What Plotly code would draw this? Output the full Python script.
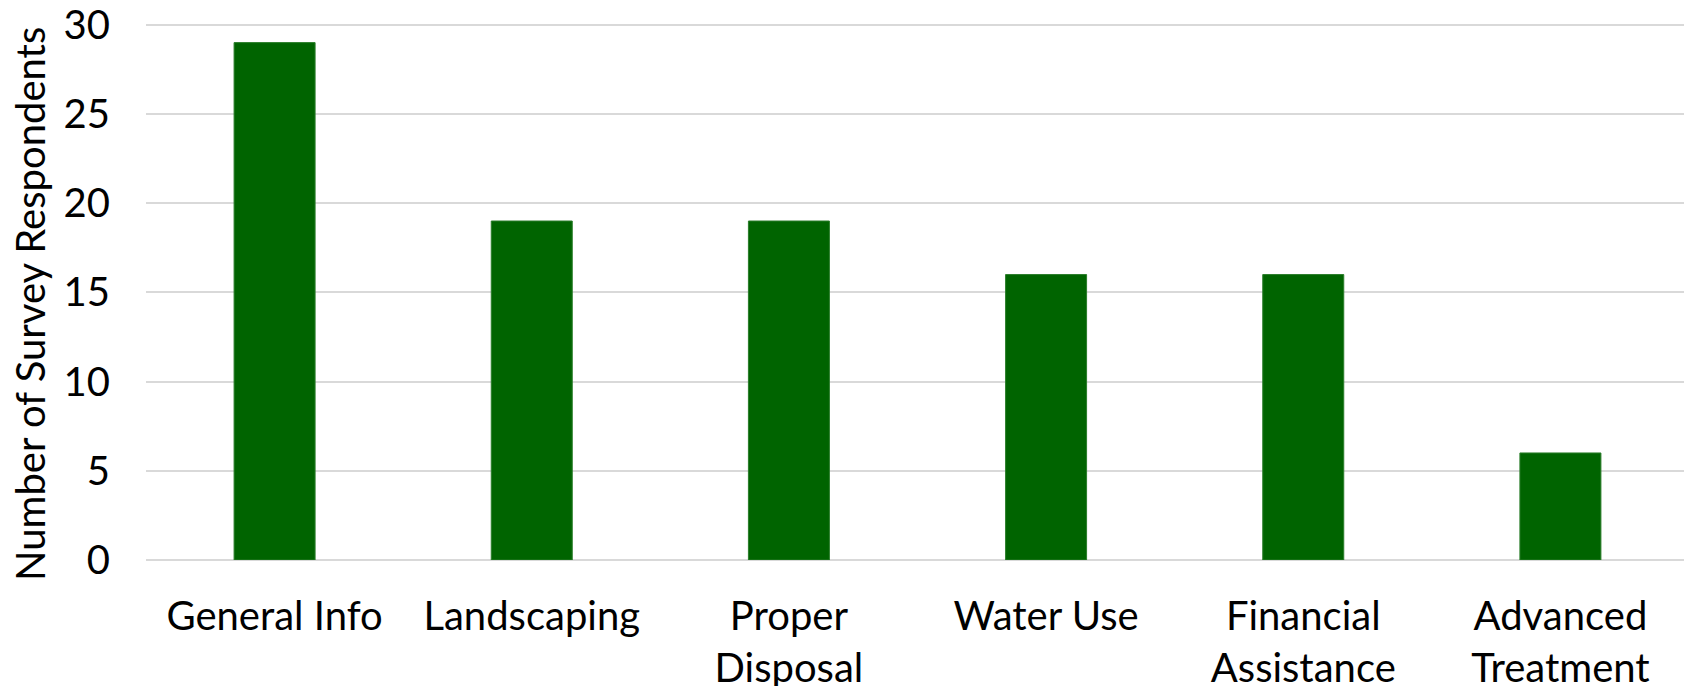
import plotly.graph_objects as go

categories = ["General Info", "Landscaping", "Proper<br>Disposal", "Water Use",
              "Financial<br>Assistance", "Advanced<br>Treatment"]
respondents = [29, 19, 19, 16, 16, 6]
y_ticks = [0, 5, 10, 15, 20, 25, 30]
y_title = "Number of Survey Respondents"

FONT = "Lato"

fig = go.Figure(go.Bar(
    x=categories, y=respondents,
    marker=dict(color="#006400", line=dict(color="#2a7d2a", width=1)),
    width=0.315,
))

fig.update_layout(
    width=1692, height=686,
    margin=dict(l=138, r=11, t=15, b=134),
    paper_bgcolor="white", plot_bgcolor="white",
    font=dict(family=FONT, size=40, color="black"),
    showlegend=False,
)
fig.update_xaxes(
    showgrid=False, showline=False, zeroline=False, automargin=False,
    ticks="", ticklabelstandoff=29,
    tickfont=dict(family=FONT, size=40, color="black"),
)
fig.update_yaxes(
    range=[0, 30.1], tickvals=y_ticks, automargin=False,
    showgrid=True, gridcolor="#d9d9d9", gridwidth=1.5,
    zeroline=True, zerolinecolor="#d9d9d9", zerolinewidth=1.5,
    showline=False, ticks="", ticklabelstandoff=35,
    ticklabeloverflow="allow",
    tickfont=dict(family=FONT, size=40, color="black"),
)
fig.add_annotation(
    text=y_title, textangle=-90, showarrow=False,
    xref="paper", yref="paper", x=-0.0752, y=0.4767,
    xanchor="center", yanchor="middle",
    font=dict(family=FONT, size=40, color="black"),
)

fig.write_html("out.html")
